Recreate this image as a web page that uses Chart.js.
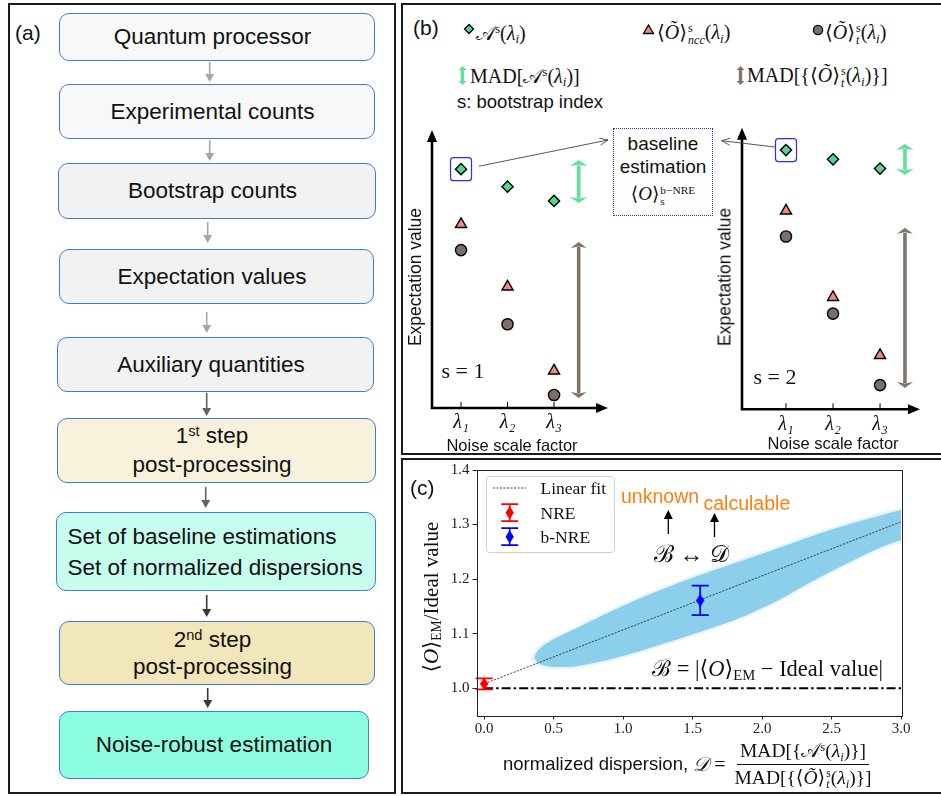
<!DOCTYPE html>
<html lang="en">
<head>
<meta charset="utf-8">
<title>Noise-robust estimation workflow</title>
<script src="https://cdn.jsdelivr.net/npm/chart.js@4.4.1/dist/chart.umd.min.js"></script>
<style>
html,body{margin:0;padding:0;background:#fff}
body{position:relative;width:941px;height:796px;overflow:hidden;font-family:"Liberation Sans",Arial,sans-serif;color:#111}
.t{position:absolute;white-space:nowrap}
.l{transform:translateY(-50%)}
.c{transform:translate(-50%,-50%)}
.vt{transform:translate(-50%,-50%) rotate(-90deg)}
.panel{position:absolute;box-sizing:border-box;border:2px solid #1c1c1c}
.box{position:absolute;box-sizing:border-box;border:1.6px solid #3f7be0;border-radius:10px;display:flex;flex-direction:column;justify-content:center;align-items:center;font-size:22.5px;line-height:28px;padding-right:9px}
.m{font-family:"Liberation Serif","DejaVu Serif",serif}
sup{font-size:0.65em;vertical-align:0.5em;line-height:0}
sub{font-size:0.65em;vertical-align:-0.28em;line-height:0}
.ss{display:inline-flex;flex-direction:column;font-size:0.6em;line-height:0.95;vertical-align:0.55em;margin-left:1px}
.frac{display:inline-flex;flex-direction:column;align-items:center;margin-left:6px}
.frac>span{padding:0 3px;line-height:26px}
.frac>span:first-child{border-bottom:1.2px solid #111}
canvas{position:absolute}
#overlay{position:absolute;left:0;top:0;z-index:6;pointer-events:none}
.over{z-index:4}
</style>
</head>
<body>

<!-- panel frames -->
<div class="panel" style="left:8px;top:3px;width:388px;height:791px"></div>
<div class="panel" style="left:401px;top:3px;width:560px;height:452px"></div>
<div class="panel" style="left:401px;top:458px;width:560px;height:336px"></div>

<!-- (a) flowchart -->
<div class="t l" style="left:15px;top:33px;font-size:21px">(a)</div>
<div class="box" style="left:59px;top:13px;width:316px;height:48px;background:#f8f8f8">Quantum processor</div>
<div class="box" style="left:59px;top:84px;width:316px;height:55px;background:#f8f8f8">Experimental counts</div>
<div class="box" style="left:58px;top:163px;width:318px;height:56px;background:#f2f2f2">Bootstrap counts</div>
<div class="box" style="left:59px;top:249px;width:315px;height:55px;background:#f2f2f2">Expectation values</div>
<div class="box" style="left:57px;top:337px;width:317px;height:55px;background:#f2f2f2">Auxiliary quantities</div>
<div class="box" style="left:57px;top:418px;width:319px;height:65px;background:#f8f2dc;line-height:28.7px"><div>1<sup>st</sup> step</div><div>post-processing</div></div>
<div class="box" style="left:56px;top:512px;width:320px;height:79px;background:#c6fdec;align-items:flex-start;padding-left:10.5px;line-height:31px"><div>Set of baseline estimations</div><div>Set of normalized dispersions</div></div>
<div class="box" style="left:59px;top:621px;width:316px;height:64px;background:#f1e7ba;line-height:27.3px"><div>2<sup>nd</sup> step</div><div>post-processing</div></div>
<div class="box" style="left:59px;top:711px;width:310px;height:68px;background:#8dfde0;padding-right:0">Noise-robust estimation</div>

<!-- (b) legend -->
<div class="t l" style="left:413px;top:28px;font-size:21px">(b)</div>
<div class="t l m" style="left:476px;top:33px;font-size:20px">𝒜<sup>s</sup>(<i>λ</i><sub><i>i</i></sub>)</div>
<div class="t l m" style="left:657px;top:33px;font-size:20px">⟨<i>Õ</i>⟩<span class="ss"><span>s</span><span><i>ncc</i></span></span>(<i>λ</i><sub><i>i</i></sub>)</div>
<div class="t l m" style="left:825px;top:33px;font-size:20px">⟨<i>Õ</i>⟩<span class="ss"><span>s</span><span><i>t</i></span></span>(<i>λ</i><sub><i>i</i></sub>)</div>
<div class="t l m" style="left:470px;top:76px;font-size:20px">MAD[𝒜<sup>s</sup>(<i>λ</i><sub><i>i</i></sub>)]</div>
<div class="t l m" style="left:747px;top:76px;font-size:20px">MAD[{⟨<i>Õ</i>⟩<span class="ss"><span>s</span><span><i>t</i></span></span>(<i>λ</i><sub><i>i</i></sub>)}]</div>
<div class="t l" style="left:457px;top:102px;font-size:18.5px">s: bootstrap index</div>

<!-- (b) charts -->
<canvas id="chartS1" width="288" height="334" style="left:402px;top:120px"></canvas>
<canvas id="chartS2" width="251" height="334" style="left:690px;top:120px"></canvas>
<div class="t c vt over" style="left:415px;top:277px;font-size:17.5px">Expectation value</div>
<div class="t c vt over" style="left:725px;top:277px;font-size:17.5px">Expectation value</div>
<div class="t c over" style="left:512px;top:445px;font-size:16.5px">Noise scale factor</div>
<div class="t c over" style="left:833px;top:443px;font-size:16.5px">Noise scale factor</div>
<div class="t c m over" style="left:463px;top:371px;font-size:22px">s = 1</div>
<div class="t c m over" style="left:775px;top:377px;font-size:22px">s = 2</div>
<div class="t over" style="left:613px;top:128px;width:100px;height:88px;box-sizing:border-box;border:1.6px dotted #1f2cf0;background:#fff;text-align:center;font-size:19px;line-height:23px;padding-top:3px">
  <div>baseline</div><div>estimation</div>
  <div class="m" style="font-size:19px;margin-top:4px">⟨<i>O</i>⟩<span class="ss" style="text-align:left"><span>b−NRE</span><span>s</span></span></div>
</div>

<!-- (c) texts -->
<div class="t l over" style="left:410px;top:488px;font-size:21px">(c)</div>
<div class="t c vt m over" style="left:431px;top:597px;font-size:21px">⟨<i>O</i>⟩<sub>EM</sub>/Ideal value</div>
<div class="t over" style="left:503px;top:741px;height:46px;display:flex;align-items:center;font-size:18.5px">
  <span>normalized dispersion,&nbsp;</span>
  <span class="m" style="font-size:20px"><i>𝒟</i> =</span>
  <span class="frac m" style="font-size:19.5px"><span>MAD[{𝒜<sup>s</sup>(<i>λ</i><sub><i>i</i></sub>)}]</span><span>MAD[{⟨<i>Õ</i>⟩<span class="ss"><span>s</span><span><i>t</i></span></span>(<i>λ</i><sub><i>i</i></sub>)}]</span></span>
</div>
<div class="t over" style="left:485.5px;top:476px;width:129px;height:77px;box-sizing:border-box;border:1px solid #cfcfcf;border-radius:4px;background:rgba(255,255,255,0.85)"></div>
<div class="t l m over" style="left:540.5px;top:488px;font-size:17.5px">Linear fit</div>
<div class="t l m over" style="left:540.5px;top:513px;font-size:17.5px">NRE</div>
<div class="t l m over" style="left:540.5px;top:537px;font-size:17.5px">b-NRE</div>
<div class="t l over" style="left:621px;top:496px;font-size:19.5px;color:#ff7f0e">unknown</div>
<div class="t l over" style="left:703.5px;top:503px;font-size:19.5px;color:#ff7f0e">calculable</div>
<div class="t c m over" style="left:691px;top:552px;font-size:24px">ℬ ↔ 𝒟</div>
<div class="t l m over" style="left:652px;top:667px;font-size:22.5px">ℬ = |⟨<i>O</i>⟩<sub>EM</sub> − Ideal value|</div>

<canvas id="chartC" width="539" height="335" style="left:402px;top:458px"></canvas>

<svg id="overlay" width="941" height="796"></svg>

<script>
// ---------- data: panel (b), bootstrap samples s = 1 and s = 2 ----------
const lambdaPos = [1, 2, 3];
const lambdaLabels = ['λ₁', 'λ₂', 'λ₃'];
const madPos = 3.53;

const s1Extrap = [85.9, 79.6, 74.5];
const s1Ncc = [66.1, 43.6, 13.4];
const s1Twirl = [56.8, 30.1, 4.7];
const s1MadExtrap = [74.8, 88.0];
const s1MadTwirl = [4.7, 58.6];

const s2Extrap = [92.1, 88.8, 85.5];
const s2Ncc = [70.5, 39.8, 19.2];
const s2Twirl = [61.4, 34.0, 8.6];
const s2MadExtrap = [84.4, 93.2];
const s2MadTwirl = [8.6, 63.4];

// ---------- data: panel (c) ----------
const xTicksC = [0.0, 0.5, 1.0, 1.5, 2.0, 2.5, 3.0];
const yTicksC = [1.0, 1.1, 1.2, 1.3, 1.4];

const nreD = [0.0];
const nreRatio = [1.008];
const nreErr = [0.01];
const bnreD = [1.555];
const bnreRatio = [1.161];
const bnreErr = [0.027];

const fitD = [0.0, 3.0];
const fitRatio = [1.008, 1.305];
const idealD = [0.0, 3.0];
const idealRatio = [1.0, 1.0];

// outline of the dense bootstrap cloud
const cloudUpperD = [0.36, 0.38, 0.42, 0.48, 0.55, 0.64, 0.88, 1.13, 1.38, 1.55, 1.88, 2.13, 2.37, 2.62, 2.87, 3.05];
const cloudUpperR = [1.056, 1.067, 1.077, 1.087, 1.096, 1.107, 1.137, 1.166, 1.191, 1.207, 1.236, 1.258, 1.280, 1.300, 1.318, 1.330];
const cloudLowerD = [0.36, 0.38, 0.43, 0.50, 0.59, 0.76, 1.01, 1.26, 1.55, 1.88, 2.13, 2.37, 2.62, 2.87, 3.05];
const cloudLowerR = [1.056, 1.048, 1.042, 1.039, 1.039, 1.045, 1.060, 1.079, 1.103, 1.133, 1.163, 1.197, 1.230, 1.260, 1.275];
// outline of the sparse fringe around it
const haloUpperD = [0.33, 0.36, 0.40, 0.48, 0.64, 0.88, 1.13, 1.38, 1.55, 1.88, 2.13, 2.37, 2.62, 2.87, 3.05];
const haloUpperR = [1.055, 1.067, 1.079, 1.091, 1.111, 1.141, 1.170, 1.195, 1.211, 1.240, 1.262, 1.284, 1.304, 1.323, 1.335];
const haloLowerD = [0.33, 0.36, 0.41, 0.50, 0.59, 0.76, 1.01, 1.26, 1.55, 1.88, 2.13, 2.37, 2.62, 2.87, 3.05];
const haloLowerR = [1.055, 1.045, 1.038, 1.035, 1.035, 1.041, 1.056, 1.075, 1.099, 1.129, 1.159, 1.193, 1.226, 1.256, 1.270];

Chart.defaults.font.family = '"Liberation Serif", "DejaVu Serif", serif';
Chart.defaults.color = '#222';

const pts = (xs, ys) => xs.map((x, i) => ({x: x, y: ys[i]}));

// ---------- panel (b) helpers ----------
function madArrow(ctx, x, yTop, yBot, color, w, lw) {
  ctx.strokeStyle = color;
  ctx.fillStyle = color;
  ctx.lineWidth = lw;
  ctx.beginPath();
  ctx.moveTo(x, yTop + 2);
  ctx.lineTo(x, yBot - 2);
  ctx.stroke();
  ctx.beginPath();
  ctx.moveTo(x, yTop - 3); ctx.lineTo(x + w, yTop + 3); ctx.lineTo(x, yTop + 1.5); ctx.lineTo(x - w, yTop + 3); ctx.closePath();
  ctx.moveTo(x, yBot + 3); ctx.lineTo(x + w, yBot - 3); ctx.lineTo(x, yBot - 1.5); ctx.lineTo(x - w, yBot - 3); ctx.closePath();
  ctx.fill();
}

const panelBPlugin = {
  id: 'panelB',
  afterDatasetsDraw(chart, args, opts) {
    const {ctx, chartArea: a, scales: {x, y}} = chart;
    ctx.save();
    // axes with arrow heads
    ctx.strokeStyle = '#000';
    ctx.fillStyle = '#000';
    ctx.lineWidth = 2.6;
    ctx.beginPath();
    ctx.moveTo(a.left, a.bottom); ctx.lineTo(a.left, a.top + 8);
    ctx.moveTo(a.left - 1.3, a.bottom); ctx.lineTo(a.right - 8, a.bottom);
    ctx.stroke();
    ctx.beginPath();
    ctx.moveTo(a.left, a.top); ctx.lineTo(a.left - 5, a.top + 12); ctx.lineTo(a.left + 5, a.top + 12); ctx.closePath();
    ctx.moveTo(a.right, a.bottom); ctx.lineTo(a.right - 12, a.bottom - 5); ctx.lineTo(a.right - 12, a.bottom + 5); ctx.closePath();
    ctx.fill();
    ctx.lineWidth = 1;
    lambdaPos.forEach(v => {
      const px = x.getPixelForValue(v);
      ctx.beginPath(); ctx.moveTo(px, a.bottom); ctx.lineTo(px, a.bottom - 6); ctx.stroke();
    });
    // MAD bars
    const mx = x.getPixelForValue(madPos);
    madArrow(ctx, mx, y.getPixelForValue(opts.madExtrap[1]), y.getPixelForValue(opts.madExtrap[0]), '#5fe09c', 9, 3.6);
    madArrow(ctx, mx, y.getPixelForValue(opts.madTwirl[1]), y.getPixelForValue(opts.madTwirl[0]), '#7f756b', 8, 3.6);
    // box around the lambda_1 extrapolated point and arrow to the baseline label
    const bx = x.getPixelForValue(lambdaPos[0]);
    const by = y.getPixelForValue(opts.extrap[0]);
    ctx.strokeStyle = '#2233ee';
    ctx.lineWidth = 1.2;
    ctx.beginPath();
    ctx.roundRect(bx - 10.5, by - 11.5, 21, 23, 3);
    ctx.stroke();
    const sx = opts.arrowFromLeft ? bx - 11 : bx + 18;
    const sy = by - 3;
    const [tx, ty] = opts.arrowTo;
    const ang = Math.atan2(ty - sy, tx - sx);
    ctx.strokeStyle = '#444';
    ctx.lineWidth = 0.9;
    ctx.beginPath();
    ctx.moveTo(sx, sy); ctx.lineTo(tx, ty);
    ctx.moveTo(tx - 9 * Math.cos(ang - 0.4), ty - 9 * Math.sin(ang - 0.4));
    ctx.lineTo(tx, ty);
    ctx.lineTo(tx - 9 * Math.cos(ang + 0.4), ty - 9 * Math.sin(ang + 0.4));
    ctx.stroke();
    ctx.restore();
  }
};

function makeNoiseChart(id, opts) {
  return new Chart(document.getElementById(id), {
    type: 'scatter',
    data: {
      datasets: [
        {data: pts(lambdaPos, opts.extrap), pointStyle: 'rectRot', pointRadius: 5.6, backgroundColor: '#55d690', borderColor: '#000', borderWidth: 1.4},
        {data: pts(lambdaPos, opts.ncc), pointStyle: 'triangle', pointRadius: 6.4, backgroundColor: '#f0897f', borderColor: '#000', borderWidth: 1.4},
        {data: pts(lambdaPos, opts.twirl), pointStyle: 'circle', pointRadius: 5.6, backgroundColor: '#7b7068', borderColor: '#000', borderWidth: 1.4}
      ]
    },
    options: {
      responsive: false,
      animation: false,
      events: [],
      layout: {padding: opts.pad},
      plugins: {legend: {display: false}, tooltip: {enabled: false}, panelB: opts},
      scales: {
        x: {
          type: 'linear', min: opts.xmin, max: opts.xmax,
          afterBuildTicks: s => { s.ticks = lambdaPos.map(v => ({value: v})); },
          ticks: {callback: (v, i) => lambdaLabels[i], font: {size: 20, style: 'italic'}, color: '#111', padding: 3, maxRotation: 0, autoSkip: false},
          grid: {display: false, drawTicks: false},
          border: {display: false},
          afterFit: s => { s.height = 26; }
        },
        y: {display: false, min: 0, max: 100}
      }
    },
    plugins: [panelBPlugin]
  });
}

makeNoiseChart('chartS1', {
  extrap: s1Extrap, ncc: s1Ncc, twirl: s1Twirl, madExtrap: s1MadExtrap, madTwirl: s1MadTwirl,
  xmin: 0.376, xmax: 4.16, pad: {left: 30, top: 10, right: 82, bottom: 20},
  arrowTo: [206, 20], arrowFromLeft: false
});
makeNoiseChart('chartS2', {
  extrap: s2Extrap, ncc: s2Ncc, twirl: s2Twirl, madExtrap: s2MadExtrap, madTwirl: s2MadTwirl,
  xmin: 0.064, xmax: 3.85, pad: {left: 52, top: 6.7, right: 21, bottom: 18.7},
  arrowTo: [31.7, 20.7], arrowFromLeft: true
});

// ---------- panel (c) ----------
function thinDiamond(color) {
  const c = document.createElement('canvas');
  c.width = 10; c.height = 14;
  const g = c.getContext('2d');
  g.fillStyle = color;
  g.beginPath(); g.moveTo(5, 0.5); g.lineTo(9.2, 7); g.lineTo(5, 13.5); g.lineTo(0.8, 7); g.closePath(); g.fill();
  return c;
}

const errorBarPlugin = {
  id: 'errorBars',
  beforeDatasetDraw(chart, args) {
    const ds = chart.data.datasets[args.index];
    if (!ds.errY) return;
    const {ctx, scales: {x, y}} = chart;
    ctx.save();
    ctx.strokeStyle = ds.errColor;
    ctx.lineWidth = 1.7;
    ds.data.forEach((p, i) => {
      const px = x.getPixelForValue(p.x);
      const top = y.getPixelForValue(p.y + ds.errY[i]);
      const bot = y.getPixelForValue(p.y - ds.errY[i]);
      ctx.beginPath();
      ctx.moveTo(px, top); ctx.lineTo(px, bot);
      ctx.moveTo(px - 8.5, top); ctx.lineTo(px + 8.5, top);
      ctx.moveTo(px - 8.5, bot); ctx.lineTo(px + 8.5, bot);
      ctx.stroke();
    });
    ctx.restore();
  }
};

const framePlugin = {
  id: 'frame',
  afterDraw(chart) {
    const {ctx, chartArea: a} = chart;
    ctx.save();
    ctx.strokeStyle = '#222';
    ctx.lineWidth = 1;
    ctx.strokeRect(Math.round(a.left) + 0.5, Math.round(a.top) + 0.5, Math.round(a.right - a.left), Math.round(a.bottom - a.top));
    ctx.restore();
  }
};

new Chart(document.getElementById('chartC'), {
  type: 'scatter',
  data: {
    datasets: [
      {type: 'line', data: pts(haloUpperD, haloUpperR), fill: '+1', backgroundColor: 'rgba(135, 206, 235, 0.22)', borderWidth: 0, pointRadius: 0, cubicInterpolationMode: 'monotone', order: 12},
      {type: 'line', data: pts(haloLowerD, haloLowerR), fill: false, borderWidth: 0, pointRadius: 0, cubicInterpolationMode: 'monotone', order: 13},
      {type: 'line', data: pts(cloudUpperD, cloudUpperR), fill: '+1', backgroundColor: 'rgba(135, 206, 235, 0.95)', borderWidth: 0, pointRadius: 0, cubicInterpolationMode: 'monotone', order: 10},
      {type: 'line', data: pts(cloudLowerD, cloudLowerR), fill: false, borderWidth: 0, pointRadius: 0, cubicInterpolationMode: 'monotone', order: 11},
      {type: 'line', data: pts(idealD, idealRatio), borderColor: '#000', borderWidth: 2, borderDash: [9, 3, 2.5, 3], pointRadius: 0, fill: false, order: 5},
      {type: 'line', data: pts(fitD, fitRatio), borderColor: '#222', borderWidth: 0.8, borderDash: [2.2, 1.3], pointRadius: 0, fill: false, order: 4},
      {data: pts(nreD, nreRatio), errY: nreErr, errColor: '#ff0000', pointStyle: thinDiamond('#ff0000'), order: 1},
      {data: pts(bnreD, bnreRatio), errY: bnreErr, errColor: '#0000ff', pointStyle: thinDiamond('#0000ff'), order: 0}
    ]
  },
  options: {
    responsive: false,
    animation: false,
    events: [],
    layout: {padding: {left: 44.5, top: 9, right: 40, bottom: 55.5}},
    plugins: {legend: {display: false}, tooltip: {enabled: false}},
    scales: {
      x: {
        type: 'linear', min: -0.055, max: 3.0,
        afterBuildTicks: s => { s.ticks = xTicksC.map(v => ({value: v})); },
        ticks: {callback: v => v.toFixed(1), font: {size: 15}, color: '#222', padding: 1, maxRotation: 0, autoSkip: false},
        grid: {drawOnChartArea: false, tickLength: 4, color: '#222'},
        border: {display: false},
        afterFit: s => { s.height = 22; }
      },
      y: {
        min: 0.95, max: 1.4,
        afterBuildTicks: s => { s.ticks = yTicksC.map(v => ({value: v})); },
        ticks: {callback: v => v.toFixed(1), font: {size: 15}, color: '#222', padding: 3},
        grid: {drawOnChartArea: false, tickLength: 4, color: '#222'},
        border: {display: false},
        afterFit: s => { s.width = 30; }
      }
    }
  },
  plugins: [errorBarPlugin, framePlugin]
});

// ---------- overlay: flow arrows, legend glyphs, annotation arrows ----------
const svg = document.getElementById('overlay');
const NS = 'http://www.w3.org/2000/svg';
function el(tag, attrs) {
  const e = document.createElementNS(NS, tag);
  for (const k in attrs) e.setAttribute(k, attrs[k]);
  svg.appendChild(e);
  return e;
}
function downArrow(x, y1, y2, color) {
  el('line', {x1: x, y1: y1, x2: x, y2: y2 - 7, stroke: color, 'stroke-width': 1.6});
  el('polygon', {points: `${x - 4.5},${y2 - 8} ${x + 4.5},${y2 - 8} ${x},${y2}`, fill: color});
}
function upArrow(x, y1, y2) {
  el('line', {x1: x, y1: y1, x2: x, y2: y2 + 7, stroke: '#000', 'stroke-width': 1.3});
  el('polygon', {points: `${x - 4.5},${y2 + 9} ${x + 4.5},${y2 + 9} ${x},${y2}`, fill: '#000'});
}
function madGlyph(x, y1, y2, color) {
  el('line', {x1: x, y1: y1 + 2, x2: x, y2: y2 - 2, stroke: color, 'stroke-width': 3.4});
  el('polygon', {points: `${x},${y1 - 1} ${x + 4},${y1 + 3} ${x - 4},${y1 + 3}`, fill: color});
  el('polygon', {points: `${x},${y2 + 1} ${x + 4},${y2 - 3} ${x - 4},${y2 - 3}`, fill: color});
}

[[209.7, 62, 82, '#a9a6a2'], [209.7, 140, 161, '#a9a6a2'], [207.7, 222, 243, '#a9a6a2'], [206.7, 312, 333, '#a9a6a2'],
 [206.7, 393, 416, '#67625d'], [205.7, 487, 508, '#67625d'], [206.7, 595, 617, '#3b3834'], [207.7, 688, 708, '#3b3834']]
  .forEach(a => downArrow(a[0], a[1], a[2], a[3]));

// (b) legend glyphs
el('polygon', {points: '464.5,29 469,24.5 473.5,29 469,33.5', fill: '#55d690', stroke: '#000', 'stroke-width': 1.3});
el('polygon', {points: '648.5,25 653.5,33.5 643.5,33.5', fill: '#f0897f', stroke: '#000', 'stroke-width': 1.3});
el('circle', {cx: 818, cy: 30, r: 4.6, fill: '#7b7068', stroke: '#000', 'stroke-width': 1.3});
madGlyph(462.5, 67, 84, '#5fe09c');
madGlyph(740.5, 67, 84, '#7f756b');

// (c) legend glyphs
el('line', {x1: 493, y1: 488, x2: 526, y2: 488, stroke: '#222', 'stroke-width': 0.8, 'stroke-dasharray': '2.2 1.3'});
[[512.7, '#ff0000'], [536.7, '#0000ff']].forEach(([cy, col]) => {
  el('path', {d: `M509.7 ${cy - 8.5} V${cy + 8.5} M501.2 ${cy - 8.5} H518.2 M501.2 ${cy + 8.5} H518.2`, stroke: col, 'stroke-width': 1.7, fill: 'none'});
  el('polygon', {points: `509.7,${cy - 6.5} 513.9,${cy} 509.7,${cy + 6.5} 505.5,${cy}`, fill: col});
});
upArrow(668.3, 534, 510);
upArrow(714.5, 537, 513);
</script>
</body>
</html>
